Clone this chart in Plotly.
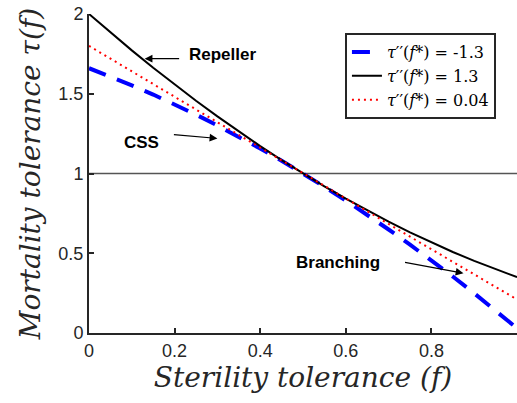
import plotly.graph_objects as go

# Sterility tolerance grid
f = [0.00, 0.05, 0.10, 0.15, 0.20, 0.25, 0.30, 0.35, 0.40, 0.45, 0.50,
     0.55, 0.60, 0.65, 0.70, 0.75, 0.80, 0.85, 0.90, 0.95, 1.00]

# Mortality tolerance curves for the three curvature cases
tau_branching = [1.660, 1.608, 1.553, 1.495, 1.433, 1.369, 1.301, 1.231, 1.157, 1.080, 1.000,
                 0.917, 0.831, 0.742, 0.649, 0.554, 0.455, 0.354, 0.249, 0.141, 0.030]
tau_repeller = [2.000, 1.884, 1.772, 1.663, 1.558, 1.456, 1.358, 1.263, 1.172, 1.084, 1.000,
                0.919, 0.842, 0.768, 0.698, 0.631, 0.568, 0.508, 0.452, 0.399, 0.350]
tau_css = [1.800, 1.720, 1.639, 1.559, 1.479, 1.399, 1.319, 1.239, 1.159, 1.080, 1.000,
           0.921, 0.841, 0.762, 0.683, 0.604, 0.525, 0.446, 0.367, 0.289, 0.210]

legend_labels = ["<i>τ</i>′′(<i>f</i>*) = -1.3",
                 "<i>τ</i>′′(<i>f</i>*) = 1.3",
                 "<i>τ</i>′′(<i>f</i>*) = 0.04"]

x_ticks = [0, 0.2, 0.4, 0.6, 0.8, 1]
y_ticks = [0, 0.5, 1, 1.5, 2]

fig = go.Figure()

# reference level tau = 1
fig.add_trace(go.Scatter(x=[0, 1], y=[1, 1], mode="lines",
                         line=dict(color="#555555", width=1.5),
                         showlegend=False, hoverinfo="skip"))

fig.add_trace(go.Scatter(x=f, y=tau_branching, mode="lines", name=legend_labels[0],
                         line=dict(color="#0000ff", width=4, dash="18px,12px")))
fig.add_trace(go.Scatter(x=f, y=tau_repeller, mode="lines", name=legend_labels[1],
                         line=dict(color="black", width=2)))
fig.add_trace(go.Scatter(x=f, y=tau_css, mode="lines", name=legend_labels[2],
                         line=dict(color="#ff0000", width=2, dash="2px,4px")))

axis_common = dict(
    showline=True, linecolor="#262626", linewidth=2,
    ticks="inside", ticklen=5, tickwidth=2, tickcolor="#262626",
    showgrid=False, zeroline=False,
    tickfont=dict(family="Liberation Sans, Arial", size=18, color="#262626"),
    mirror=False,
)

title_font = dict(family="DejaVu Serif", size=28, color="#262626")

fig.update_xaxes(range=[0, 1], tickvals=x_ticks, ticktext=[str(t) for t in x_ticks],
                 title=dict(text="<i>Sterility tolerance (f)</i>", font=title_font, standoff=2),
                 **axis_common)
fig.update_yaxes(range=[0, 2], tickvals=y_ticks, ticktext=[str(t) for t in y_ticks],
                 title=dict(text="<i>Mortality tolerance τ(f)</i>", font=title_font, standoff=10),
                 **axis_common)

arrow = dict(showarrow=True, arrowhead=2, arrowsize=1.3, arrowwidth=1.2, arrowcolor="black",
             axref="pixel", ayref="pixel")
label_font = dict(family="Liberation Sans, Arial", size=17, color="black")

fig.add_annotation(x=0.13, y=1.72, ax=36, ay=0, text="", **arrow)
fig.add_annotation(x=0.228, y=1.745, text="<b>Repeller</b>", showarrow=False,
                   xanchor="left", font=label_font)
fig.add_annotation(x=0.30, y=1.22, ax=-45, ay=-4, text="", **arrow)
fig.add_annotation(x=0.078, y=1.195, text="<b>CSS</b>", showarrow=False,
                   xanchor="left", font=label_font)
fig.add_annotation(x=0.875, y=0.375, ax=-60, ay=-11, text="", **arrow)
fig.add_annotation(x=0.48, y=0.44, text="<b>Branching</b>", showarrow=False,
                   xanchor="left", font=label_font)

fig.update_layout(
    width=517, height=403,
    margin=dict(l=89, r=0, t=14, b=70),
    paper_bgcolor="white", plot_bgcolor="white",
    showlegend=True,
    legend=dict(x=0.598, y=0.94, xanchor="left", yanchor="top",
                bgcolor="white", bordercolor="#262626", borderwidth=2,
                font=dict(family="DejaVu Serif", size=16, color="black"),
                tracegroupgap=0, itemwidth=30),
)

fig.write_html("out.html")
